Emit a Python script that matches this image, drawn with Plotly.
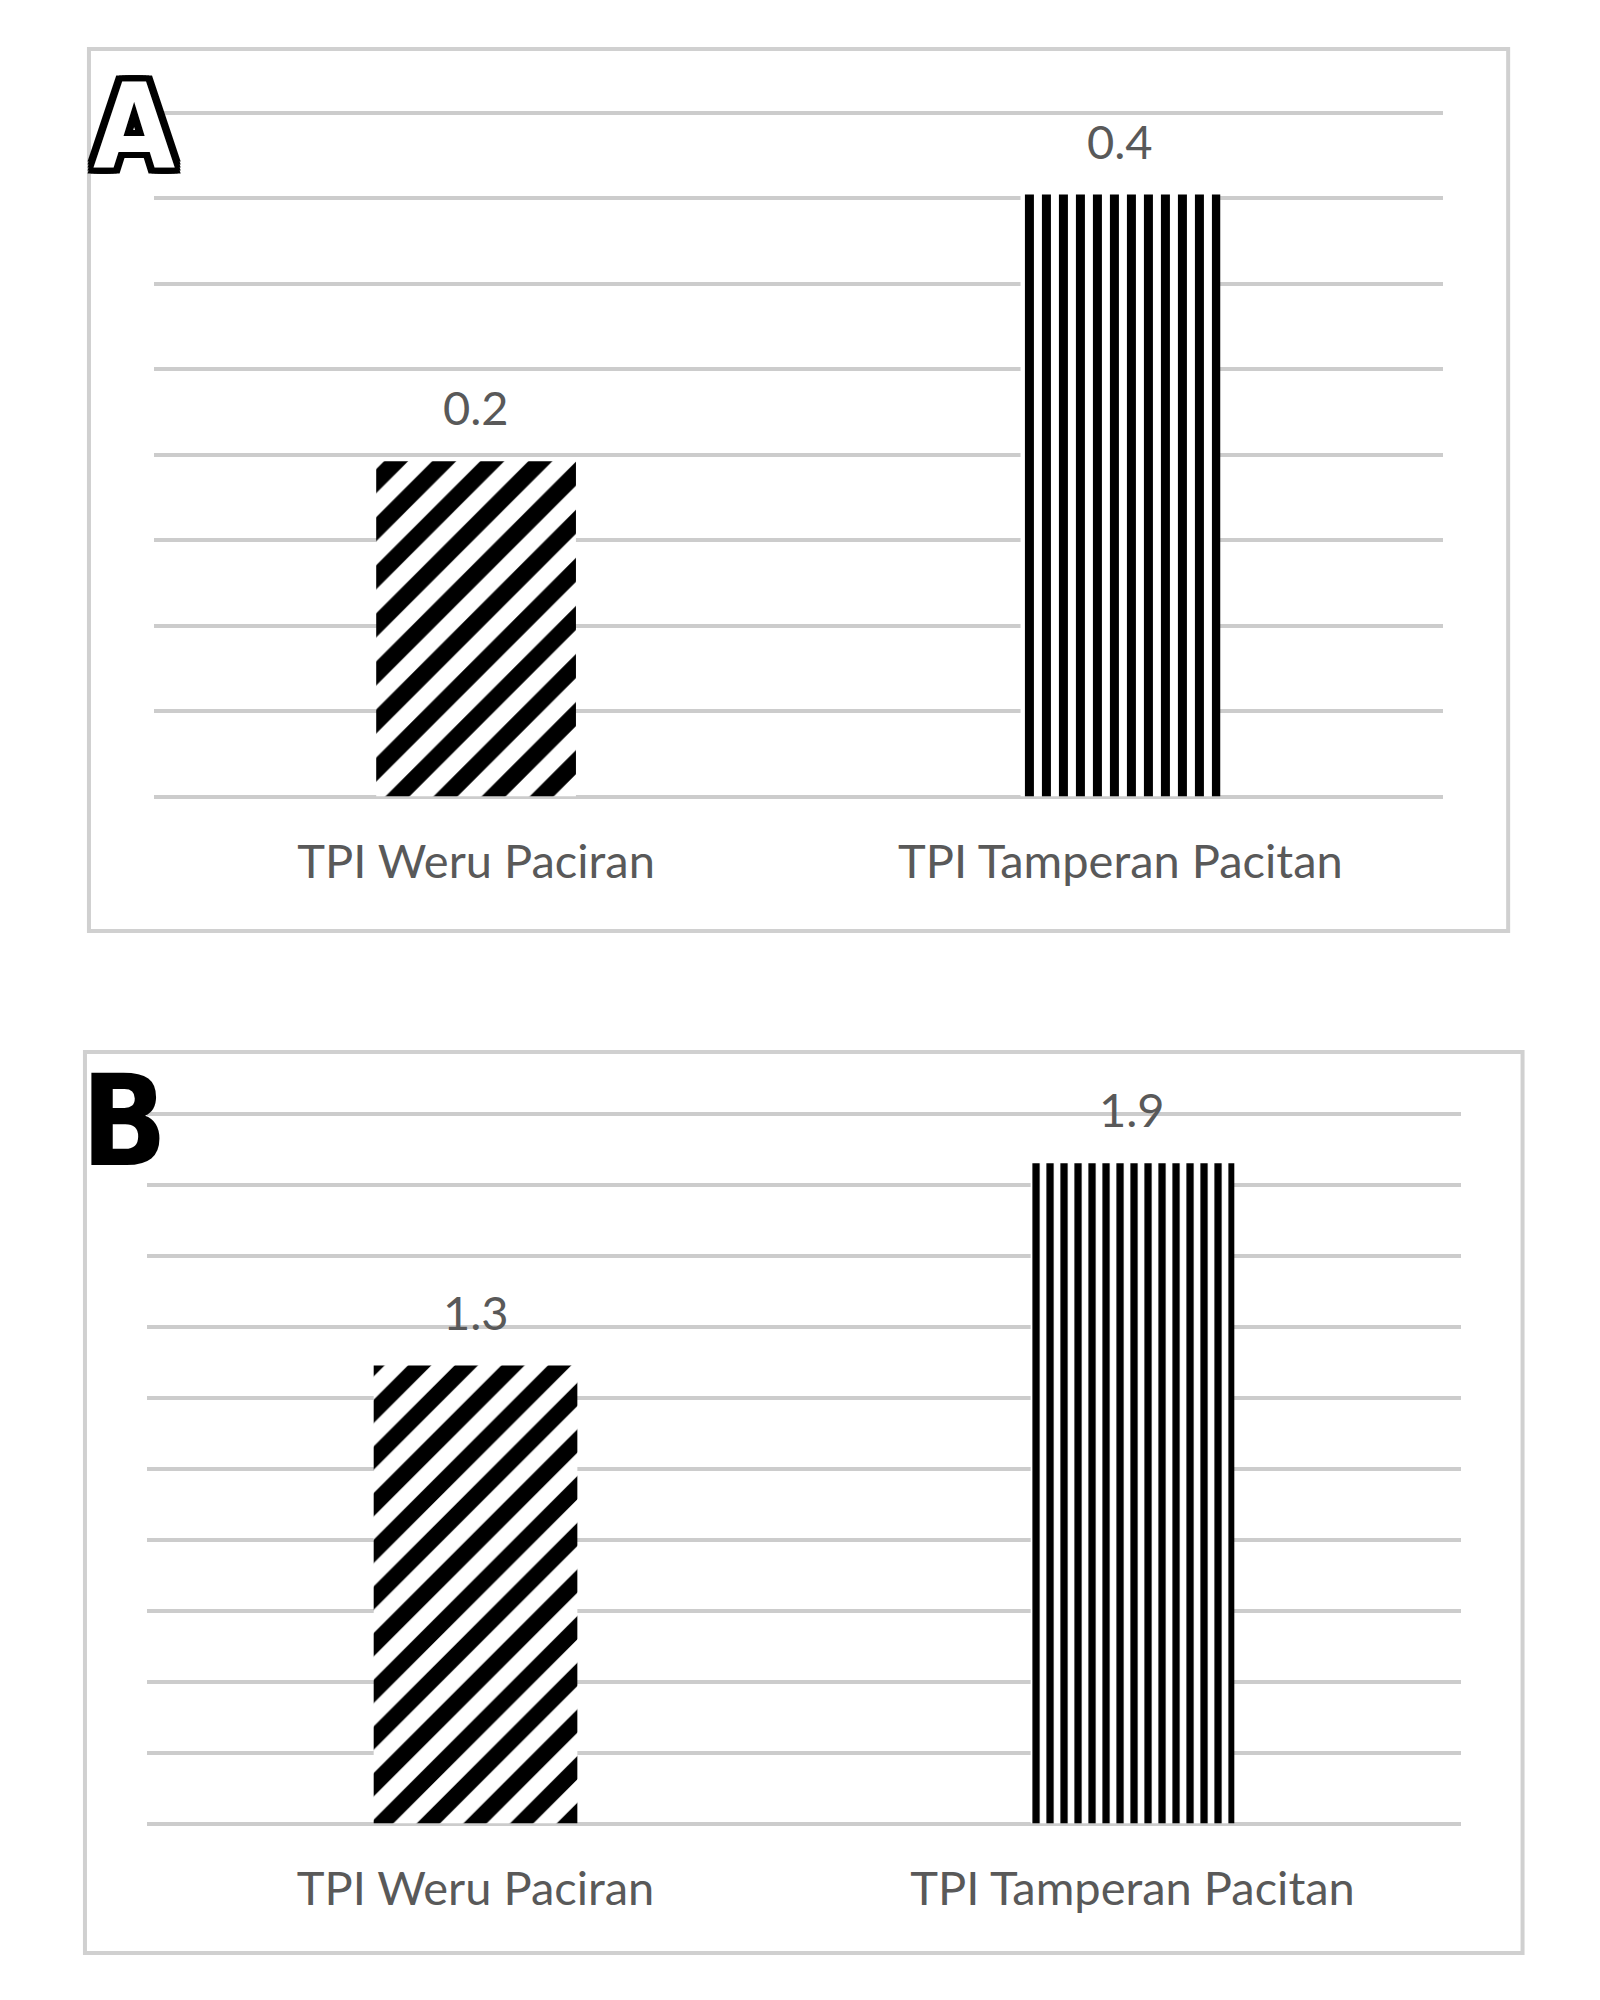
import plotly.graph_objects as go

# data
categories = ["TPI Weru Paciran", "TPI Tamperan Pacitan"]
panel_a_values = [0.196, 0.352]
panel_b_values = [1.29, 1.86]
panel_a_max = 0.4
panel_b_max = 2.0

GRID = "#cccccc"
TEXT = "#595959"
FONT = "Lato"

fig = go.Figure()

# panel A
fig.add_trace(go.Bar(
    x=categories, y=panel_a_values, xaxis="x", yaxis="y",
    marker=dict(color="white", line=dict(width=0),
                pattern=dict(shape=["/", "|"], fgcolor="black", bgcolor="white",
                             size=[34, 17], solidity=[0.5, 0.53], fillmode="replace")),
    showlegend=False,
))
# panel B
fig.add_trace(go.Bar(
    x=categories, y=panel_b_values, xaxis="x2", yaxis="y2",
    marker=dict(color="white", line=dict(width=0),
                pattern=dict(shape=["/", "|"], fgcolor="black", bgcolor="white",
                             size=[33, 14], solidity=[0.5, 0.52], fillmode="replace")),
    showlegend=False,
))

# value labels above bars
for xa, ya, vals in [("x", "y", panel_a_values), ("x2", "y2", panel_b_values)]:
    for c, v in zip(categories, vals):
        fig.add_annotation(x=c, y=v, xref=xa, yref=ya, text=f"{v:.1f}",
                           showarrow=False, xanchor="center", yanchor="middle", yshift=54,
                           font=dict(family=FONT, size=47, color=TEXT))

xaxis_style = dict(showgrid=False, zeroline=False, showline=False,
                   ticks="outside", ticklen=24, tickcolor="rgba(0,0,0,0)",
                   tickfont=dict(family=FONT, size=47, color=TEXT), fixedrange=True)
yaxis_style = dict(showgrid=True, gridcolor=GRID, gridwidth=4, zeroline=True,
                   zerolinecolor=GRID, zerolinewidth=4, showticklabels=False,
                   showline=False, ticks="", tick0=0)

# range is padded a little so the top gridline (0.4 / 2.0) still gets drawn
fig.update_layout(
    width=1600, height=2000,
    margin=dict(l=0, r=0, t=0, b=0),
    paper_bgcolor="white", plot_bgcolor="white",
    bargap=0.69,
    xaxis=dict(domain=[0.0912, 0.8966], anchor="y", **xaxis_style),
    yaxis=dict(domain=[0.60575, 0.96485], anchor="x", range=[0, panel_a_max * 1.05],
               dtick=0.05, **yaxis_style),
    xaxis2=dict(domain=[0.0869, 0.9081], anchor="y2", **xaxis_style),
    yaxis2=dict(domain=[0.09225, 0.465], anchor="x2", range=[0, panel_b_max * 1.05],
                dtick=0.2, **yaxis_style),
)

# panel frames
fig.add_shape(type="rect", xref="paper", yref="paper", x0=0.0506, x1=0.9376, y0=0.5385, y1=0.9795,
              line=dict(color="#d0d0d0", width=4), layer="below")
fig.add_shape(type="rect", xref="paper", yref="paper", x0=0.0481, x1=0.9466, y0=0.0275, y1=0.478,
              line=dict(color="#d0d0d0", width=4), layer="below")

# panel letters
outline = ", ".join(f"{dx}px {dy}px 0 #000" for dx in (-6, -3, 0, 3, 6) for dy in (-6, -3, 0, 3, 6) if dx or dy)
fig.add_annotation(x=0.0785, y=0.9405, xref="paper", yref="paper", text="<b>A</b>", showarrow=False,
                   xanchor="center", yanchor="middle",
                   font=dict(family="DejaVu Sans Condensed, DejaVu Sans", size=118, color="white",
                             shadow=outline))
fig.add_annotation(x=0.0722, y=0.4435, xref="paper", yref="paper", text="<b>B</b>", showarrow=False,
                   xanchor="center", yanchor="middle",
                   font=dict(family="DejaVu Sans Condensed, DejaVu Sans", size=126, color="black"))

fig.write_html("out.html")
